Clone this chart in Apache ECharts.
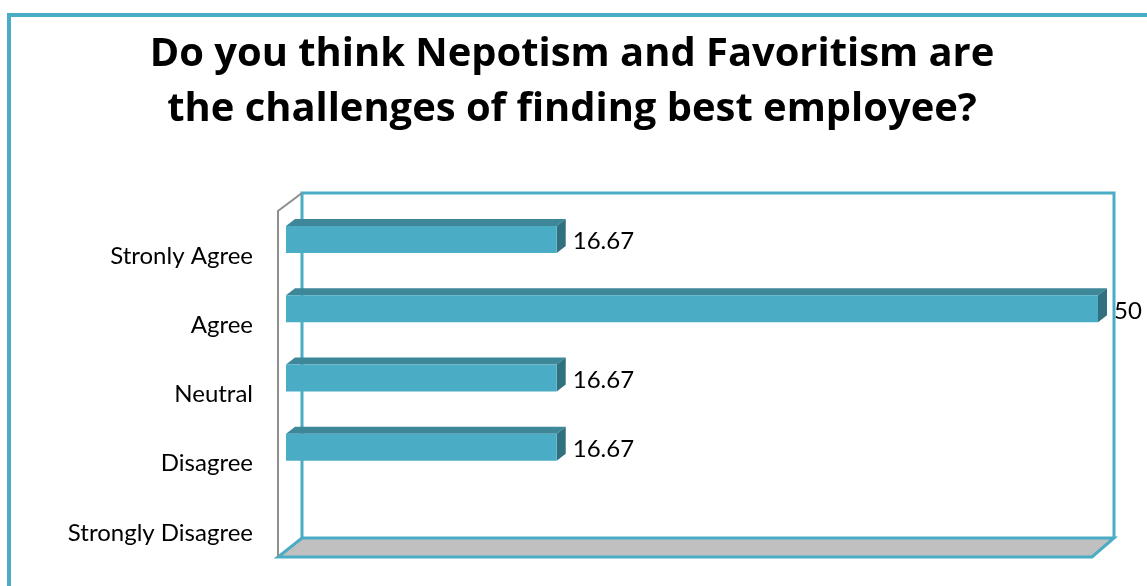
<!DOCTYPE html>
<html>
<head>
<meta charset="utf-8">
<script src="https://cdn.jsdelivr.net/npm/echarts@6/dist/echarts.min.js"></script>
<style>html,body{margin:0;padding:0;background:#fff}#c{width:1147px;height:586px}</style>
</head>
<body>
<div id="c"></div>
<script>
const titleText = 'Do you think Nepotism and Favoritism are\nthe challenges of finding best employee?';
const categories = ['Stronly Agree', 'Agree', 'Neutral', 'Disagree', 'Strongly Disagree'];
const values = [16.67, 50, 16.67, 16.67, null];
const valueLabels = ['16.67', '50', '16.67', '16.67', ''];
const axisMin = 0;
const axisMax = 50;

const FONT = 'Lato, "Open Sans", sans-serif';
const TITLE_FONT = '"Open Sans", Lato, sans-serif';
const TEAL = '#4BACC6';
const TOP = '#3d8799';
const SIDE = '#31717f';
const DX = 9, DY = -7;

const chart = echarts.init(document.getElementById('c'), null, {renderer: 'canvas'});

const seriesData = categories.map((c, i) => [values[i] == null ? 0 : values[i], i]);

function renderItem(params, api) {
  const v = api.value(0);
  const idx = api.value(1);
  const lbl = valueLabels[idx];
  if (!lbl) return {type: 'group', children: []};
  const p0 = api.coord([axisMin, idx]);
  const p1 = api.coord([v, idx]);
  const h = api.size([0, 1])[1] * 0.39;
  const x0 = p0[0], x1 = p1[0];
  const y0 = p0[1] - h / 2, y1 = p0[1] + h / 2;
  return {
    type: 'group',
    children: [
      {type: 'polygon', shape: {points: [[x0, y0], [x1, y0], [x1 + DX, y0 + DY], [x0 + DX, y0 + DY]]}, style: {fill: TOP}},
      {type: 'polygon', shape: {points: [[x1, y0], [x1 + DX, y0 + DY], [x1 + DX, y1 + DY], [x1, y1]]}, style: {fill: SIDE}},
      {type: 'rect', shape: {x: x0, y: y0, width: x1 - x0, height: y1 - y0}, style: {fill: TEAL}},
      {type: 'text', x: x1 + DX + 7, y: p0[1] + 2, style: {text: lbl, fill: '#000', font: '24px ' + FONT, textAlign: 'left', textVerticalAlign: 'middle'}}
    ]
  };
}

const option = {
  backgroundColor: '#fff',
  animation: false,
  title: {
    text: titleText,
    left: 567,
    top: 22,
    textAlign: 'center',
    textStyle: {fontFamily: TITLE_FONT, fontWeight: 'bold', fontSize: 39.9, lineHeight: 55, color: '#000'}
  },
  grid: {left: 286, top: 205, width: 812, height: 346, containLabel: false},
  xAxis: {type: 'value', min: axisMin, max: axisMax, show: false},
  yAxis: {
    type: 'category', inverse: true, data: categories,
    axisLine: {show: false}, axisTick: {show: false}, splitLine: {show: false},
    axisLabel: {fontFamily: FONT, fontSize: 24, color: '#000', margin: 33, verticalAlign: 'top', lineHeight: 33}
  },
  graphic: [
    {type: 'rect', z: 0, shape: {x: 9, y: 15, width: 1400, height: 800}, style: {fill: null, stroke: TEAL, lineWidth: 4}},
    {type: 'polygon', z: 0, shape: {points: [[278, 557], [1092, 557], [1114, 538], [302, 538]]}, style: {fill: '#c0c0c0', stroke: TEAL, lineWidth: 3}},
    {type: 'polyline', z: 0, shape: {points: [[302, 538], [302, 193], [1114, 193], [1114, 538]]}, style: {fill: null, stroke: TEAL, lineWidth: 3}},
    {type: 'polyline', z: 0, shape: {points: [[278, 557], [278, 211], [302, 193]]}, style: {fill: null, stroke: '#8f8f8f', lineWidth: 2}}
  ],
  series: [{
    type: 'custom',
    renderItem: renderItem,
    encode: {x: 0, y: 1},
    data: seriesData,
    z: 5
  }]
};
chart.setOption(option);
</script>
</body>
</html>
